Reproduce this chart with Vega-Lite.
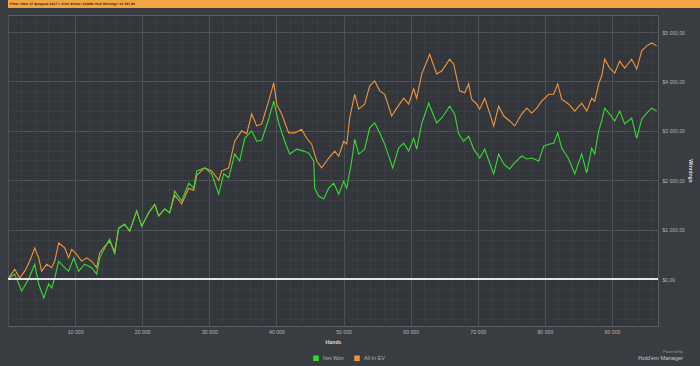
{
  "$schema": "https://vega.github.io/schema/vega-lite/v6.json",
  "background": "#393c41",
  "padding": {"left": 0, "top": 0, "right": 0, "bottom": 3},
  "columns": 1,
  "align": "none",
  "spacing": 6,
  "config": {
    "font": "Liberation Sans",
    "view": {"stroke": null},
    "axis": {"labelFont": "Liberation Sans", "titleFont": "Liberation Sans"}
  },
  "datasets": {
    "won": [{"h":0,"v":0},{"h":1000,"v":100},{"h":2040,"v":-240},{"h":3080,"v":0},{"h":3980,"v":300},{"h":4570,"v":-100},{"h":5320,"v":-380},{"h":6060,"v":-100},{"h":6510,"v":-180},{"h":6960,"v":20},{"h":7550,"v":360},{"h":8450,"v":230},{"h":9040,"v":160},{"h":9790,"v":430},{"h":10530,"v":160},{"h":11430,"v":300},{"h":12470,"v":230},{"h":13220,"v":100},{"h":13660,"v":430},{"h":14410,"v":630},{"h":15150,"v":810},{"h":15900,"v":500},{"h":16490,"v":1030},{"h":17390,"v":1110},{"h":18130,"v":970},{"h":19180,"v":1380},{"h":19920,"v":1070},{"h":20960,"v":1340},{"h":21860,"v":1510},{"h":22450,"v":1280},{"h":23350,"v":1420},{"h":24090,"v":1340},{"h":24840,"v":1780},{"h":25880,"v":1580},{"h":26930,"v":1940},{"h":27670,"v":1840},{"h":28120,"v":2190},{"h":29310,"v":2250},{"h":30350,"v":2130},{"h":31400,"v":1720},{"h":32140,"v":2130},{"h":32880,"v":2050},{"h":33780,"v":2530},{"h":34520,"v":2390},{"h":35270,"v":2850},{"h":36310,"v":3000},{"h":37060,"v":2790},{"h":37800,"v":2810},{"h":38840,"v":3240},{"h":39590,"v":3600},{"h":40330,"v":3160},{"h":41230,"v":2790},{"h":41970,"v":2530},{"h":43010,"v":2630},{"h":44060,"v":2590},{"h":44810,"v":2550},{"h":45550,"v":2390},{"h":45700,"v":1840},{"h":46290,"v":1680},{"h":47040,"v":1620},{"h":47790,"v":1840},{"h":48530,"v":1940},{"h":49280,"v":1720},{"h":50020,"v":1980},{"h":50470,"v":1840},{"h":51210,"v":2390},{"h":51660,"v":2830},{"h":52250,"v":2530},{"h":53150,"v":2630},{"h":53890,"v":3060},{"h":54640,"v":3160},{"h":55380,"v":2960},{"h":56130,"v":2730},{"h":57320,"v":2250},{"h":58210,"v":2650},{"h":58960,"v":2750},{"h":59700,"v":2590},{"h":60450,"v":2850},{"h":60890,"v":2630},{"h":61640,"v":3140},{"h":62680,"v":3560},{"h":63870,"v":3160},{"h":64620,"v":3260},{"h":65810,"v":3500},{"h":66560,"v":3340},{"h":67150,"v":2940},{"h":67900,"v":2790},{"h":68640,"v":2890},{"h":69390,"v":2630},{"h":70280,"v":2450},{"h":71030,"v":2630},{"h":71770,"v":2350},{"h":72370,"v":2130},{"h":73110,"v":2530},{"h":73860,"v":2330},{"h":74750,"v":2230},{"h":75350,"v":2330},{"h":76540,"v":2490},{"h":77290,"v":2430},{"h":78030,"v":2450},{"h":79080,"v":2390},{"h":79820,"v":2690},{"h":80570,"v":2730},{"h":81310,"v":2750},{"h":81910,"v":2960},{"h":82500,"v":2650},{"h":83550,"v":2430},{"h":84440,"v":2130},{"h":85480,"v":2530},{"h":86230,"v":2150},{"h":86970,"v":2650},{"h":87420,"v":2530},{"h":88010,"v":3000},{"h":88460,"v":3200},{"h":88910,"v":3460},{"h":89650,"v":3340},{"h":90400,"v":3200},{"h":91140,"v":3400},{"h":91890,"v":3140},{"h":92930,"v":3260},{"h":93680,"v":2850},{"h":94430,"v":3240},{"h":95170,"v":3360},{"h":95910,"v":3460},{"h":96650,"v":3400}],
    "ev": [{"h":0,"v":0},{"h":1000,"v":200},{"h":1740,"v":20},{"h":2490,"v":160},{"h":3230,"v":360},{"h":3980,"v":630},{"h":4570,"v":430},{"h":5020,"v":160},{"h":5770,"v":300},{"h":6510,"v":230},{"h":6960,"v":360},{"h":7550,"v":730},{"h":8450,"v":630},{"h":9040,"v":430},{"h":9490,"v":600},{"h":10240,"v":500},{"h":10980,"v":360},{"h":11730,"v":430},{"h":12470,"v":360},{"h":13220,"v":230},{"h":13660,"v":530},{"h":14410,"v":660},{"h":15150,"v":770},{"h":15900,"v":560},{"h":16490,"v":1030},{"h":17390,"v":1110},{"h":18130,"v":970},{"h":19180,"v":1380},{"h":19920,"v":1070},{"h":20960,"v":1340},{"h":21860,"v":1510},{"h":22450,"v":1280},{"h":23350,"v":1420},{"h":24090,"v":1340},{"h":24840,"v":1700},{"h":25880,"v":1520},{"h":26930,"v":1840},{"h":27670,"v":1800},{"h":28120,"v":2100},{"h":29310,"v":2250},{"h":30350,"v":2190},{"h":31400,"v":2000},{"h":31840,"v":2190},{"h":32880,"v":2250},{"h":33780,"v":2790},{"h":34820,"v":3000},{"h":35570,"v":2940},{"h":36310,"v":3340},{"h":37060,"v":3100},{"h":37800,"v":3140},{"h":38840,"v":3600},{"h":39590,"v":3970},{"h":40040,"v":3540},{"h":40780,"v":3340},{"h":41820,"v":2960},{"h":42720,"v":2960},{"h":43760,"v":3030},{"h":44510,"v":2850},{"h":45250,"v":2730},{"h":46000,"v":2390},{"h":46740,"v":2250},{"h":47790,"v":2450},{"h":48680,"v":2590},{"h":49280,"v":2490},{"h":50020,"v":2790},{"h":50470,"v":2730},{"h":50910,"v":3260},{"h":51660,"v":3740},{"h":52250,"v":3440},{"h":53150,"v":3540},{"h":53890,"v":3910},{"h":54640,"v":4010},{"h":55380,"v":3810},{"h":56130,"v":3740},{"h":57170,"v":3300},{"h":57920,"v":3460},{"h":58960,"v":3660},{"h":59700,"v":3540},{"h":60450,"v":3850},{"h":60890,"v":3660},{"h":61640,"v":4150},{"h":62830,"v":4550},{"h":63870,"v":4150},{"h":64620,"v":4210},{"h":65810,"v":4450},{"h":66410,"v":4350},{"h":66860,"v":4070},{"h":67300,"v":3810},{"h":68050,"v":3770},{"h":68640,"v":3950},{"h":69090,"v":3640},{"h":69840,"v":3540},{"h":70280,"v":3440},{"h":71030,"v":3660},{"h":71770,"v":3360},{"h":72370,"v":3100},{"h":73110,"v":3500},{"h":73860,"v":3300},{"h":74750,"v":3200},{"h":75500,"v":3100},{"h":76540,"v":3340},{"h":77290,"v":3460},{"h":78030,"v":3360},{"h":78780,"v":3460},{"h":79520,"v":3600},{"h":80570,"v":3740},{"h":81310,"v":3740},{"h":81910,"v":3950},{"h":82500,"v":3640},{"h":83550,"v":3540},{"h":84440,"v":3400},{"h":85480,"v":3560},{"h":86230,"v":3400},{"h":86970,"v":3660},{"h":87420,"v":3600},{"h":88010,"v":3950},{"h":88460,"v":4110},{"h":88910,"v":4450},{"h":89650,"v":4270},{"h":90400,"v":4170},{"h":91140,"v":4410},{"h":91890,"v":4270},{"h":92930,"v":4450},{"h":93680,"v":4250},{"h":94430,"v":4620},{"h":95170,"v":4720},{"h":95910,"v":4780},{"h":96650,"v":4720}]
  },
  "concat": [
    {
      "width": 700,
      "height": 8,
      "view": {"fill": "#f2a541", "stroke": null},
      "title": {
        "text": "Filter: After 27 февраля 2017 г. 0:00; Blinds: $100NL Fast Winnings: $3 397,80",
        "orient": "top", "anchor": "start", "frame": "group",
        "offset": -5.6, "dx": 2,
        "font": "Liberation Sans Narrow, DejaVu Sans Condensed, Liberation Sans",
        "fontSize": 3.1, "fontWeight": "bold", "color": "#3b2a12"
      },
      "data": {"values": []},
      "mark": "rect"
    },
    {
      "width": 650,
      "height": 311,
      "view": {"fill": "#33363b", "stroke": "#5a5d62", "strokeWidth": 1},
      "title": {
        "text": "Powered by",
        "subtitle": "Hold'em Manager",
        "orient": "bottom", "anchor": "end", "frame": "group",
        "offset": 6, "dx": 25,
        "fontSize": 3.8, "color": "#9a9a9a", "fontWeight": "normal",
        "subtitleFontSize": 5.7, "subtitleColor": "#c8c8c8", "subtitlePadding": 1
      },
      "resolve": {"axis": {"y": "independent"}},
      "layer": [
        {
          "data": {"name": "ev"},
          "mark": {"type": "line", "strokeWidth": 1.1},
          "encoding": {
            "x": {
              "field": "h", "type": "quantitative",
              "scale": {"domain": [0, 96850], "nice": false, "zero": false},
              "axis": {
                "values": [0,2000,4000,6000,8000,10000,12000,14000,16000,18000,20000,22000,24000,26000,28000,30000,32000,34000,36000,38000,40000,42000,44000,46000,48000,50000,52000,54000,56000,58000,60000,62000,64000,66000,68000,70000,72000,74000,76000,78000,80000,82000,84000,86000,88000,90000,92000,94000,96000],
                "tickCount": 200,
                "labelExpr": "datum.value % 10000 === 0 && datum.value > 0 ? replace(format(datum.value, ','), ',', ' ') : ''",
                "labelOverlap": false,
                "grid": true,
                "gridColor": {"condition": {"test": "datum.value % 10000 === 0", "value": "#4e5156"}, "value": "#3a3d42"},
                "gridWidth": 1,
                "ticks": false, "domain": false,
                "labelFontSize": 5.2, "labelColor": "#b5b5b5", "labelPadding": 3,
                "title": "Hands", "titleFontSize": 5.2, "titleFontWeight": "bold", "titleColor": "#dcdcdc", "titlePadding": 5
              }
            },
            "y": {
              "field": "v", "type": "quantitative",
              "scale": {"domain": [-950, 5345], "nice": false, "zero": false},
              "axis": {
                "orient": "right",
                "values": [-800,-600,-400,-200,0,200,400,600,800,1000,1200,1400,1600,1800,2000,2200,2400,2600,2800,3000,3200,3400,3600,3800,4000,4200,4400,4600,4800,5000,5200],
                "tickCount": 200,
                "labelExpr": "datum.value % 1000 === 0 && datum.value >= 0 ? '$' + replace(replace(format(datum.value, ',.2f'), ',', ' '), '.', ',') : ''",
                "labelOverlap": false,
                "grid": true,
                "gridColor": {"condition": {"test": "datum.value % 1000 === 0", "value": "#4e5156"}, "value": "#3a3d42"},
                "ticks": false, "domain": false,
                "labelFontSize": 5, "labelColor": "#b5b5b5", "labelPadding": 4,
                "title": "Winnings", "titleFontSize": 5.2, "titleFontWeight": "bold", "titleColor": "#dcdcdc", "titlePadding": 3
              }
            },
            "color": {
              "datum": "All-In EV",
              "scale": {"domain": ["Net Won", "All-In EV"], "range": ["#36dc34", "#f0963c"]},
              "legend": {
                "orient": "none", "legendX": 305, "legendY": 355, "direction": "horizontal", "title": null,
                "symbolType": "square", "symbolSize": 9, "symbolStrokeWidth": 2.5,
                "labelFontSize": 5.4, "labelColor": "#b0b0b0", "columnPadding": 6
              }
            }
          }
        },
        {
          "data": {"name": "won"},
          "mark": {"type": "line", "strokeWidth": 1.1},
          "encoding": {
            "x": {"field": "h", "type": "quantitative"},
            "y": {"field": "v", "type": "quantitative", "axis": null},
            "color": {"datum": "Net Won"}
          }
        },
        {
          "data": {"values": [{"zero": 0}]},
          "mark": {"type": "rule", "color": "#e6e6e6", "strokeWidth": 2},
          "encoding": {
            "y": {
              "field": "zero", "type": "quantitative",
              "axis": {"orient": "left", "labels": false, "ticks": false, "domain": false, "grid": false, "title": null, "minExtent": 7, "maxExtent": 7}
            }
          }
        }
      ]
    }
  ]
}
